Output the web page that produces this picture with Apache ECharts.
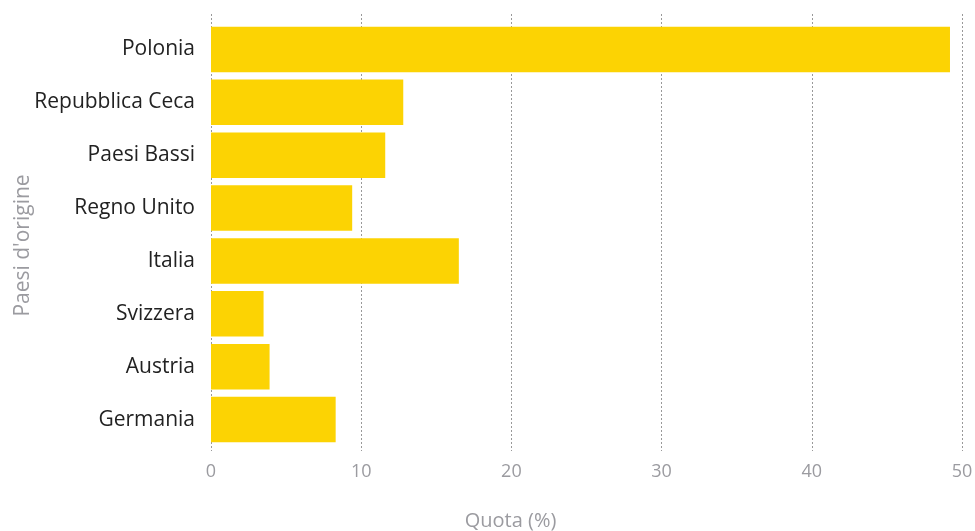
<!DOCTYPE html>
<html>
<head>
<meta charset="utf-8">
<script src="https://cdn.jsdelivr.net/npm/echarts@6/dist/echarts.min.js"></script>
<style>
    html, body { margin: 0; padding: 0; background: #fff; }
    #chart { width: 975px; height: 531px; }
</style>
</head>
<body>
<div id="chart"></div>
<script>
/*数据*/
var paesi = ['Polonia', 'Repubblica Ceca', 'Paesi Bassi', 'Regno Unito', 'Italia', 'Svizzera', 'Austria', 'Germania'];
var quota = [49.2, 12.8, 11.6, 9.4, 16.5, 3.5, 3.9, 8.3];
var xTicks = [0, 10, 20, 30, 40, 50];

var font = '"Open Sans", "Noto Sans", sans-serif';
var grey = '#9b9ba0';

var myChart = echarts.init(document.getElementById('chart'));
var options = {
    animation: false,
    grid: [
        /*柱子*/
        { left: 211, right: 13, top: 23, bottom: 85, outerBoundsMode: 'none' },
        /*网格线*/
        { left: 211, right: 13, top: 14, bottom: 80, outerBoundsMode: 'none' }
    ],
    xAxis: [
        {
            type: 'value',
            gridIndex: 0,
            min: xTicks[0],
            max: xTicks[xTicks.length - 1],
            interval: 10,
            axisLine: { show: false },
            axisTick: { show: false },
            axisLabel: { show: false },
            splitLine: { show: false }
        },
        {
            type: 'value',
            gridIndex: 1,
            min: xTicks[0],
            max: xTicks[xTicks.length - 1],
            interval: 10,
            axisLine: { show: false },
            axisTick: { show: false },
            axisLabel: {
                color: grey,
                fontFamily: font,
                fontSize: 18,
                margin: 12
            },
            splitLine: {
                show: true,
                lineStyle: { color: '#999', type: [2, 2], width: 1 }
            },
            name: 'Quota (%)',
            nameLocation: 'middle',
            nameGap: 60,
            nameMoveOverlap: false,
            nameTextStyle: {
                color: grey,
                fontFamily: font,
                fontSize: 20,
                padding: [0, 152, 0, 0]
            }
        }
    ],
    yAxis: [
        {
            type: 'category',
            gridIndex: 0,
            inverse: true,
            data: paesi,
            axisLine: { show: false },
            axisTick: { show: false },
            axisLabel: {
                color: '#222',
                fontFamily: font,
                fontSize: 21,
                margin: 16
            },
            name: "Paesi d'origine",
            nameLocation: 'middle',
            nameGap: 177,
            nameMoveOverlap: false,
            nameTextStyle: {
                color: grey,
                fontFamily: font,
                fontSize: 21,
                padding: [0, 22, 0, 0]
            }
        },
        {
            type: 'value',
            gridIndex: 1,
            show: false
        }
    ],
    series: [
        {
            type: 'bar',
            xAxisIndex: 0,
            yAxisIndex: 0,
            data: quota,
            barCategoryGap: '14%',
            itemStyle: { color: '#fcd303' },
            silent: true
        }
    ]
};
myChart.setOption(options);
</script>
</body>
</html>
